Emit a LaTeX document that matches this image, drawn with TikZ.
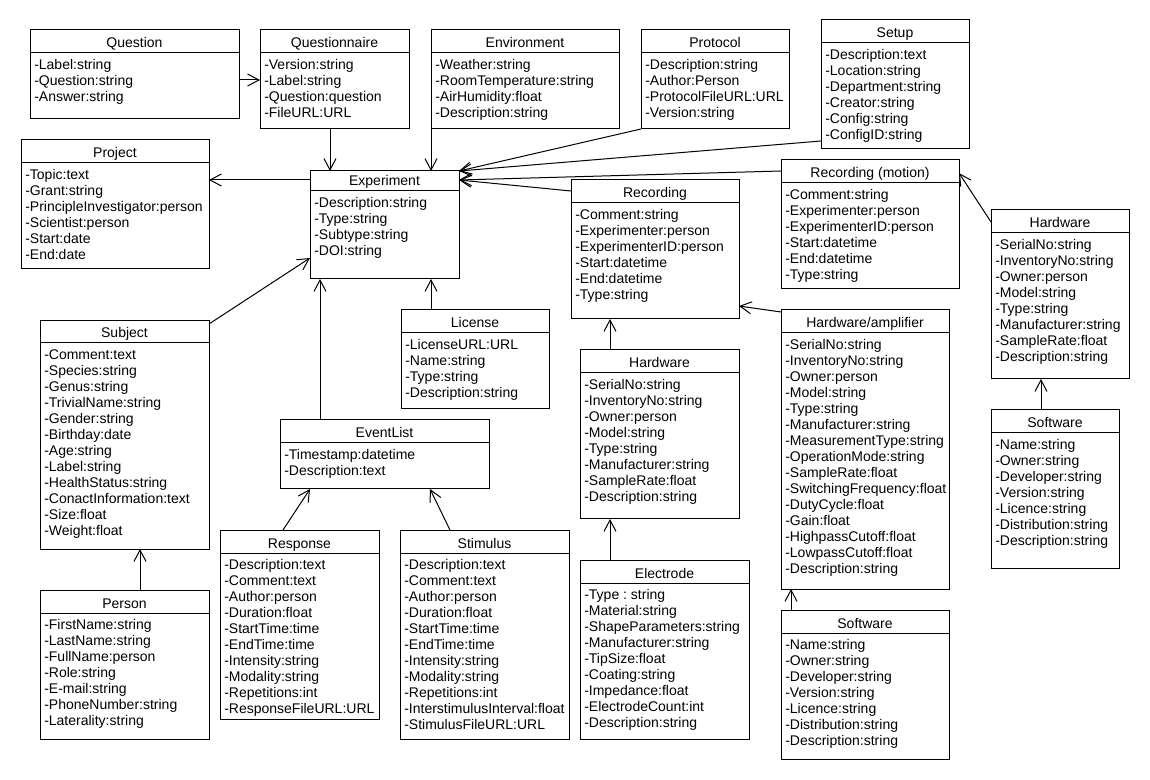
\documentclass[tikz,border=0pt]{standalone}
\usepackage{fontspec}
\setmainfont{Liberation Sans}
\usetikzlibrary{arrows.meta,fit}
\frenchspacing
\tikzset{
  box/.style={draw, line width=0.75pt, inner sep=0pt, outer sep=0pt},
  ttl/.style={anchor=base, inner sep=0pt, font=\fontsize{10.5pt}{12pt}\selectfont},
  attrs/.style={anchor=north west, inner sep=0pt, align=left, font=\fontsize{10.5pt}{12pt}\selectfont\frenchspacing},
  arr/.style={line width=0.75pt, -{Straight Barb[length=8.5pt,width=9pt]}},
}
\newcommand\umlbox[8]{%
  \node[box, fit={(#2,#3) (#4,#5)}] (#1) {};
  \draw[line width=0.75pt] (#1.west |- 0,#6) -- (#1.east |- 0,#6);
  \node[ttl] (#1-t) at ({(#2+#4)/2},{#6-5}) {#7};
  \node[attrs] (#1-a) at ({#2+4},{#6+6}) {#8};
}
\begin{document}
\begin{tikzpicture}[x=0.75pt,y=-0.75pt]
\fill[white] (0,0) rectangle (1150,780);
\useasboundingbox (0,0) rectangle (1150,780);

\umlbox{question}{30}{30}{239}{119}{53}{Question}{-Label:string\\-Question:string\\-Answer:string}
\umlbox{questionnaire}{260}{30}{409}{129}{53}{Questionnaire}{-Version:string\\-Label:string\\-Question:question\\-FileURL:URL}
\umlbox{environment}{431}{30}{619}{129}{53}{Environment}{-Weather:string\\-RoomTemperature:string\\-AirHumidity:float\\-Description:string}
\umlbox{protocol}{641}{30}{789}{129}{53}{Protocol}{-Description:string\\-Author:Person\\-ProtocolFileURL:URL\\-Version:string}
\umlbox{setup}{821}{20}{969}{149}{43}{Setup}{-Description:text\\-Location:string\\-Department:string\\-Creator:string\\-Config:string\\-ConfigID:string}
\umlbox{project}{21}{140}{209}{269}{163}{Project}{-Topic:text\\-Grant:string\\-PrincipleInvestigator:person\\-Scientist:person\\-Start:date\\-End:date}
\umlbox{expt}{310}{171}{459}{279}{191}{Experiment}{-Description:string\\-Type:string\\-Subtype:string\\-DOI:string}
\umlbox{rec}{571}{180}{739}{319}{203}{Recording}{-Comment:string\\-Experimenter:person\\-ExperimenterID:person\\-Start:datetime\\-End:datetime\\-Type:string}
\umlbox{recm}{781}{160}{959}{289}{183}{Recording (motion)}{-Comment:string\\-Experimenter:person\\-ExperimenterID:person\\-Start:datetime\\-End:datetime\\-Type:string}
\umlbox{hwr}{991}{210}{1129}{379}{233}{Hardware}{-SerialNo:string\\-InventoryNo:string\\-Owner:person\\-Model:string\\-Type:string\\-Manufacturer:string\\-SampleRate:float\\-Description:string}
\umlbox{subject}{40}{321}{209}{549}{343}{Subject}{-Comment:text\\-Species:string\\-Genus:string\\-TrivialName:string\\-Gender:string\\-Birthday:date\\-Age:string\\-Label:string\\-HealthStatus:string\\-ConactInformation:text\\-Size:float\\-Weight:float}
\umlbox{license}{401}{310}{549}{409}{333}{License}{-LicenseURL:URL\\-Name:string\\-Type:string\\-Description:string}
\umlbox{hwm}{580}{350}{739}{519}{373}{Hardware}{-SerialNo:string\\-InventoryNo:string\\-Owner:person\\-Model:string\\-Type:string\\-Manufacturer:string\\-SampleRate:float\\-Description:string}
\umlbox{amp}{781}{310}{949}{589}{333}{Hardware/amplifier}{-SerialNo:string\\-InventoryNo:string\\-Owner:person\\-Model:string\\-Type:string\\-Manufacturer:string\\-MeasurementType:string\\-OperationMode:string\\-SampleRate:float\\-SwitchingFrequency:float\\-DutyCycle:float\\-Gain:float\\-HighpassCutoff:float\\-LowpassCutoff:float\\-Description:string}
\umlbox{swr}{991}{410}{1119}{568}{433}{Software}{-Name:string\\-Owner:string\\-Developer:string\\-Version:string\\-Licence:string\\-Distribution:string\\-Description:string}
\umlbox{events}{280}{420}{489}{489}{443}{EventList}{-Timestamp:datetime\\-Description:text}
\umlbox{response}{220}{530}{379}{719}{553}{Response}{-Description:text\\-Comment:text\\-Author:person\\-Duration:float\\-StartTime:time\\-EndTime:time\\-Intensity:string\\-Modality:string\\-Repetitions:int\\-ResponseFileURL:URL}
\umlbox{stimulus}{400}{530}{569}{739}{553}{Stimulus}{-Description:text\\-Comment:text\\-Author:person\\-Duration:float\\-StartTime:time\\-EndTime:time\\-Intensity:string\\-Modality:string\\-Repetitions:int\\-InterstimulusInterval:float\\-StimulusFileURL:URL}
\umlbox{electrode}{580}{560}{749}{739}{583}{Electrode}{-Type : string\\-Material:string\\-ShapeParameters:string\\-Manufacturer:string\\-TipSize:float\\-Coating:string\\-Impedance:float\\-ElectrodeCount:int\\-Description:string}
\umlbox{person}{40}{590}{209}{739}{613}{Person}{-FirstName:string\\-LastName:string\\-FullName:person\\-Role:string\\-E-mail:string\\-PhoneNumber:string\\-Laterality:string}
\umlbox{swb}{781}{610}{949}{759}{633}{Software}{-Name:string\\-Owner:string\\-Developer:string\\-Version:string\\-Licence:string\\-Distribution:string\\-Description:string}

% connectors
\draw[arr] (question.east |- 0,80) -- (questionnaire.west |- 0,80);
\draw[arr] (questionnaire.south -| 330,0) -- (expt.north -| 330,0);
\draw[arr] (environment.south west) -- (expt.north -| 431,0);
\draw[arr] (protocol.south west) -- (expt.north east);
\draw[arr] (setup.west |- 0,141) -- (expt.north east);
\draw[arr] (recm.west |- 0,171) -- (expt.east |- 0,180);
\draw[arr] (rec.west |- 0,191) -- (expt.east |- 0,180);
\draw[arr] (expt.west |- 0,180) -- (project.east |- 0,180);
\draw[arr] (subject.east |- 0,324) -- (expt.west |- 0,258);
\draw[arr] (events.north -| 320,0) -- (expt.south -| 320,0);
\draw[arr] (license.north -| 431,0) -- (expt.south -| 431,0);
\draw[arr] (response.north -| 283,0) -- (events.south -| 310,0);
\draw[arr] (stimulus.north -| 450,0) -- (events.south -| 430,0);
\draw[arr] (hwm.north -| 610,0) -- (rec.south -| 610,0);
\draw[arr] (electrode.north -| 610,0) -- (hwm.south -| 610,0);
\draw[arr] (amp.west |- 0,312) -- (rec.east |- 0,306);
\draw[arr] (hwr.west |- 0,222) -- (recm.east |- 0,173);
\draw[arr] (swr.north -| 1041,0) -- (hwr.south -| 1041,0);
\draw[arr] (swb.north -| 791,0) -- (amp.south -| 791,0);
\draw[arr] (person.north -| 140,0) -- (subject.south -| 140,0);
\end{tikzpicture}
\end{document}
